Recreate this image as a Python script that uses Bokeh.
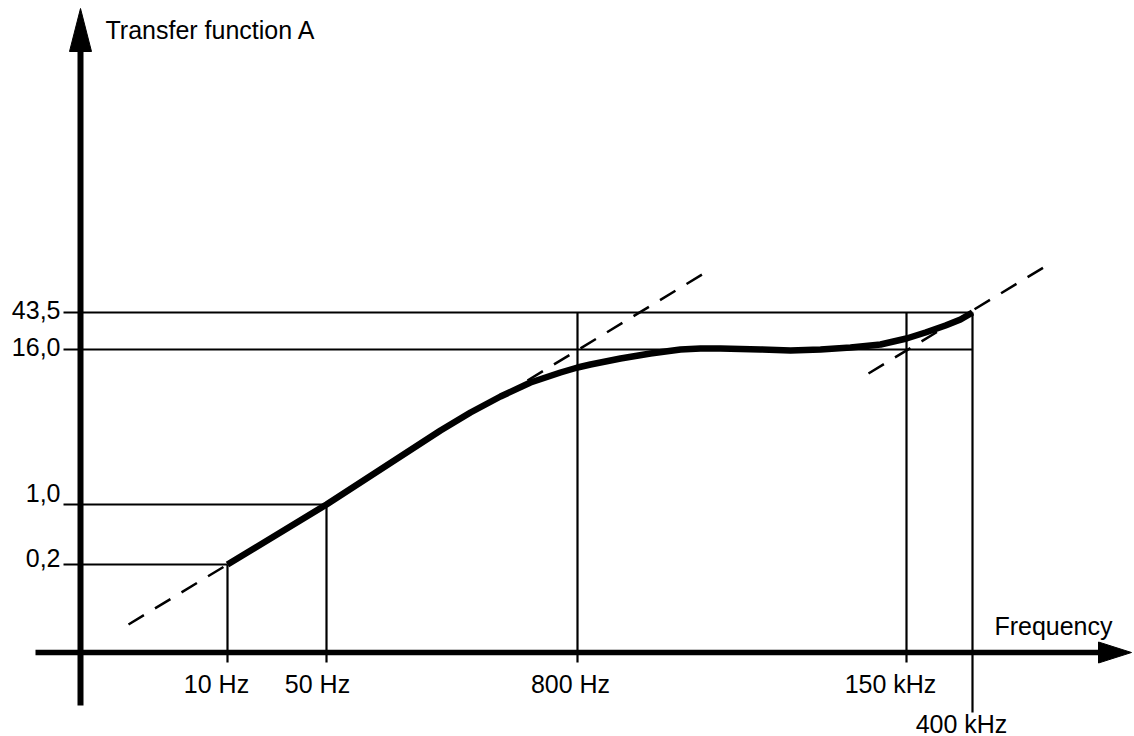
from bokeh.plotting import figure
from bokeh.models import Range1d, ColumnDataSource
from bokeh.core.properties import value
from bokeh.embed import file_html
from bokeh.resources import INLINE

# ---- data (schematic, not-to-scale positions as drawn in the original) ----
freq_labels = ["10 Hz", "50 Hz", "800 Hz", "150 kHz", "400 kHz"]
freq_pos = [1.47, 2.46, 4.97, 8.26, 8.92]

level_labels = ["0,2", "1,0", "16,0", "43,5"]
level_pos = [0.88, 1.48, 3.03, 3.40]

# horizontal guide of each level runs to this frequency marker
level_to_freq = [0, 1, 4, 4]
# vertical guide of each frequency starts at this level
freq_from_level = [0, 1, 3, 3, 3]

# transfer-function curve
curve_x = [1.47, 2.46, 3.60, 3.90, 4.20, 4.50, 4.80, 4.97, 5.10, 5.40, 5.70,
           6.00, 6.20, 6.40, 6.80, 7.10, 7.40, 7.70, 8.00, 8.26, 8.45, 8.65,
           8.80, 8.92]
curve_y = [0.88, 1.48, 2.22, 2.40, 2.56, 2.70, 2.80, 2.85, 2.88, 2.94, 2.99,
           3.03, 3.04, 3.04, 3.03, 3.02, 3.03, 3.05, 3.08, 3.14, 3.20, 3.27,
           3.33, 3.40]

# asymptotes (dashed)
asym_low_x = [0.48, 1.47]
asym_low_y = [0.28, 0.88]
asym_mid_x = [4.47, 6.25]
asym_mid_y = [2.72, 3.80]
asym_high_x = [7.88, 9.63]
asym_high_y = [2.79, 3.85]

# ---- figure ----
W, H = 1134, 736
XR = (-0.80, 10.54)
YR = (-0.84, 6.52)
px = (XR[1] - XR[0]) / W   # data units per pixel, x
py = (YR[1] - YR[0]) / H   # data units per pixel, y

p = figure(width=W, height=H, x_range=Range1d(*XR), y_range=Range1d(*YR),
           output_backend="svg", toolbar_location=None,
           x_axis_type=None, y_axis_type=None, min_border=0)
p.outline_line_color = None
p.background_fill_color = "white"
p.border_fill_color = "white"

FONT = value("Liberation Sans")
FS = "25px"

# guide lines
guide_left = -0.17
hx = [[guide_left, freq_pos[level_to_freq[i]]] for i in range(len(level_pos))]
hy = [[lv, lv] for lv in level_pos]
p.multi_line(xs=hx, ys=hy, line_color="black", line_width=2.2)

vbottom = [-0.10, -0.10, -0.10, -0.10, -0.60]
vx = [[f, f] for f in freq_pos]
vy = [[level_pos[freq_from_level[j]], vbottom[j]] for j in range(len(freq_pos))]
p.multi_line(xs=vx, ys=vy, line_color="black", line_width=2.2)

# asymptotes
for ax_, ay_ in ((asym_low_x, asym_low_y), (asym_mid_x, asym_mid_y), (asym_high_x, asym_high_y)):
    p.line(ax_, ay_, line_color="black", line_width=2.5, line_dash="18 13")

# curve
p.line(curve_x, curve_y, line_color="black", line_width=6.5, line_join="round")

# axes with arrowheads
y_tip = 6.44
x_tip = 10.51
p.line([0, 0], [-0.53, y_tip - 40 * py], line_color="black", line_width=6)
p.patch([-11 * px, 11 * px, 0], [y_tip - 43 * py, y_tip - 43 * py, y_tip], color="black")
p.line([-0.45, x_tip - 30 * px], [0, 0], line_color="black", line_width=5.5)
p.patch([x_tip - 33 * px, x_tip - 33 * px, x_tip], [10.5 * py, -10.5 * py, 0], color="black")

# level labels (sit just above-left of their guide line)
lvl_src = ColumnDataSource(dict(x=[-0.20] * len(level_pos), y=level_pos,
                                text=level_labels, dy=[-7, -12, -3, -3]))
p.text(x="x", y="y", text="text", y_offset="dy", source=lvl_src,
       text_font=FONT, text_font_size=FS, text_align="right",
       text_baseline="middle", text_color="black")

# frequency labels
frq_src = ColumnDataSource(dict(x=freq_pos, y=[-0.31, -0.31, -0.31, -0.31, -0.71],
                                text=freq_labels, dx=[-11, -9, -7, -16, -11]))
p.text(x="x", y="y", text="text", x_offset="dx", source=frq_src,
       text_font=FONT, text_font_size=FS, text_align="center",
       text_baseline="middle", text_color="black")

# axis titles
p.text(x=[0.25], y=[6.23], text=["Transfer function A"], text_font=FONT,
       text_font_size=FS, text_align="left", text_baseline="middle", text_color="black")
p.text(x=[10.32], y=[0.27], text=["Frequency"], text_font=FONT,
       text_font_size=FS, text_align="right", text_baseline="middle", text_color="black")

open("out.html", "w").write(file_html(p, INLINE))
